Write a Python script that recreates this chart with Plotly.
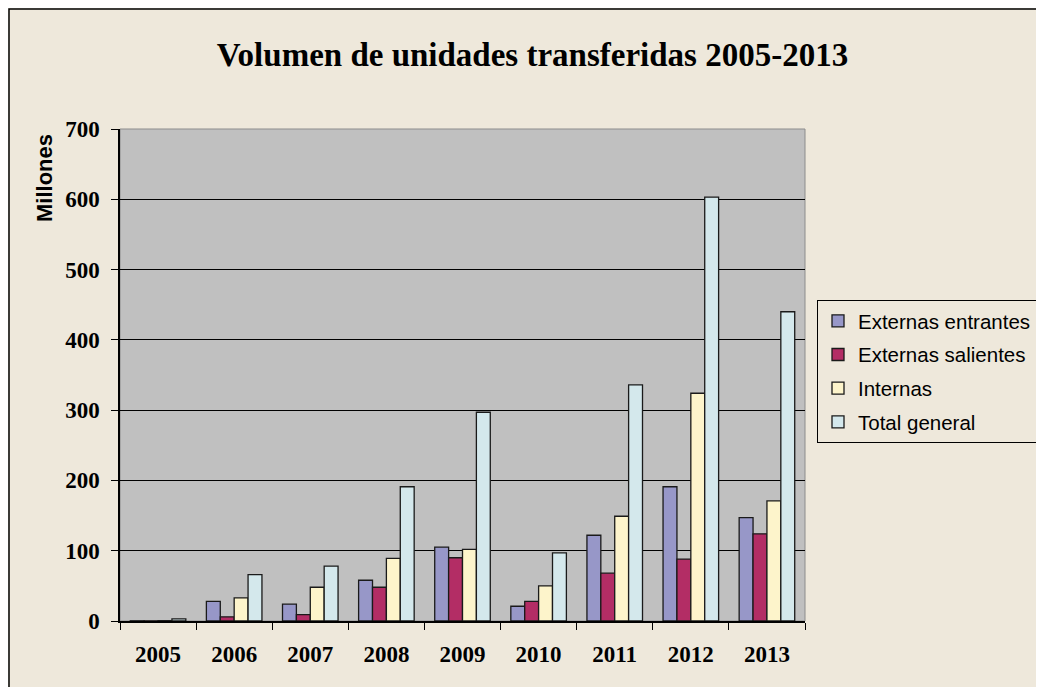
import plotly.graph_objects as go

years = ["2005", "2006", "2007", "2008", "2009", "2010", "2011", "2012", "2013"]
entrantes = [0.3, 28, 24, 58, 105, 21, 122, 191, 147]
salientes = [0.2, 6, 9, 48, 90, 28, 68, 88, 124]
internas = [0.5, 33, 48, 89, 102, 50, 149, 324, 171]
total = [3, 66, 78, 191, 297, 97, 336, 603, 440]

series = [
    ("Externas entrantes", entrantes, "#9797C8"),
    ("Externas salientes", salientes, "#B32D65"),
    ("Internas", internas, "#FDF4CB"),
    ("Total general", total, "#D4E8EC"),
]

fig = go.Figure()
for name, vals, col in series:
    fig.add_trace(go.Bar(x=years, y=vals, name=name, legendgroup=name,
                         marker=dict(color=col, line=dict(color="#1a1a1a", width=1.3))))

# page is drawn with an 8px body margin, so everything is shifted up/left by 8
fig.update_layout(
    width=1044, height=687,
    barmode="group", bargap=0.27, bargroupgap=0,
    paper_bgcolor="#EEE8DB", plot_bgcolor="#C0C0C0",
    margin=dict(l=112, r=247, t=121, b=74),
    title=dict(text="<b>Volumen de unidades transferidas 2005-2013</b>",
               x=0.5024, xanchor="center", y=0.932, yanchor="middle",
               font=dict(family="Liberation Serif", size=33, color="black")),
    legend=dict(xref="container", yref="container",
                x=809 / 1044, y=1 - 292 / 687, xanchor="left", yanchor="top",
                font=dict(family="Liberation Sans", size=20.5, color="black"),
                bgcolor="rgba(0,0,0,0)", bordercolor="black", borderwidth=1,
                tracegroupgap=4),
    font=dict(family="Liberation Serif", color="black"),
    showlegend=True,
)

fig.update_xaxes(
    showline=True, linecolor="black", linewidth=1.5,
    ticks="outside", ticklen=7, tickcolor="black", tickson="boundaries",
    ticklabelstandoff=12,
    tickfont=dict(family="Liberation Serif", size=23, color="black"),
    tickprefix="<b>", ticksuffix="</b>", showgrid=False,
)
fig.update_yaxes(
    range=[0, 700], dtick=100,
    showline=True, linecolor="black", linewidth=1.5,
    ticks="outside", ticklen=7, tickcolor="black", ticklabelstandoff=7,
    tickfont=dict(family="Liberation Serif", size=23, color="black"),
    tickprefix="<b>", ticksuffix="</b>",
    showgrid=True, gridcolor="black", gridwidth=1.2, zeroline=False,
)

# plot area border and outer chart frame
fig.add_shape(type="rect", xref="paper", yref="paper", x0=0, y0=0, x1=1, y1=1,
              line=dict(color="#8c8c8c", width=1), layer="below")
fig.add_shape(type="rect", xref="paper", yref="paper",
              x0=-111 / 685, y0=-80 / 492, x1=1.4, y1=1 + 120 / 492,
              line=dict(color="black", width=1.5))

fig.add_annotation(text="<b>Millones</b>", xref="paper", yref="paper",
                   x=-76 / 685, y=(613 - 170) / 492, xanchor="center", yanchor="middle",
                   textangle=-90, showarrow=False,
                   font=dict(family="Liberation Sans", size=22, color="black"))

fig.write_html("out.html")
